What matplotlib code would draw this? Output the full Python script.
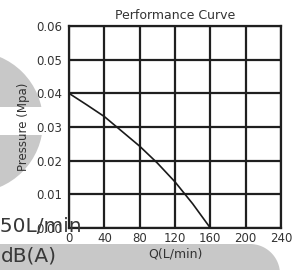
import numpy as np
import matplotlib
matplotlib.use("Agg")
import matplotlib.pyplot as plt
from matplotlib.patches import Circle, Rectangle, Polygon

# data
flow = [0, 20, 40, 60, 80, 100, 120, 140, 160]
pressure = [0.040, 0.0366, 0.0331, 0.0287, 0.0243, 0.0193, 0.0137, 0.0072, 0.0]
xticks = [0, 40, 80, 120, 160, 200, 240]
yticks = [0.00, 0.01, 0.02, 0.03, 0.04, 0.05, 0.06]

W, H = 303, 270
fig = plt.figure(figsize=(W / 100, H / 100), dpi=100)
fig.patch.set_facecolor("white")

# background decoration (page behind the chart)
bg = fig.add_axes([0, 0, 1, 1], zorder=0)
bg.set_xlim(0, W)
bg.set_ylim(H, 0)
bg.axis("off")
grey = "#c8c8c8"
bg.add_patch(Circle((-27.6, 122), 70.6, color=grey, lw=0))
bg.add_patch(Rectangle((-10, 107), 80, 28, color="white", lw=0))
t = np.linspace(0, np.pi / 2, 30)
band = [(-10, 244), (250, 244)] + [(250 + 30 * np.sin(a), 274 - 30 * np.cos(a)) for a in t] + [(-10, 280)]
bg.add_patch(Polygon(band, closed=True, color=grey, lw=0))

# chart
l, r, top, bot = 69, 281, 26, 228
ax = fig.add_axes([l / W, 1 - bot / H, (r - l) / W, (bot - top) / H], zorder=1)
ax.set_facecolor("white")
ax.plot(flow, pressure, color="#1a1a1a", lw=1.2, zorder=3)
ax.set_xlim(0, 240)
ax.set_ylim(0, 0.06)
ax.set_xticks(xticks)
ax.set_yticks(yticks)
ax.set_xticklabels([str(v) for v in xticks])
ax.set_yticklabels(["%.2f" % v for v in yticks])
ax.grid(True, color="#1f1f1f", lw=1.6)
for s in ax.spines.values():
    s.set_color("#1f1f1f")
    s.set_linewidth(1.6)
ax.tick_params(length=0, labelsize=8.5, labelcolor="#333333")
ax.tick_params(axis="y", pad=5)
ax.tick_params(axis="x", pad=3)
ax.set_title("Performance Curve", fontsize=9, color="#333333", pad=5)
ax.set_xlabel("Q(L/min)", fontsize=9, color="#333333", labelpad=2)
ax.set_ylabel("Pressure (Mpa)", fontsize=8.5, color="#333333", labelpad=4)

# cut-off page text
fig.text(-12 / W, 1 - 232 / H, "150L/min", fontsize=14.5, color="#383838", zorder=5)
fig.text(1 / W, 1 - 262 / H, "dB(A)", fontsize=14.5, color="#383838", zorder=5)

fig.savefig("out.png", dpi=100)
